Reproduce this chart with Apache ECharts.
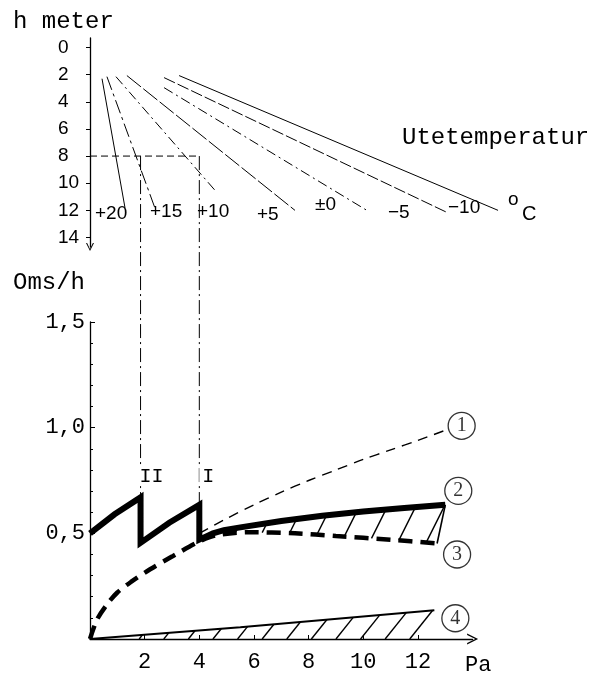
<!DOCTYPE html>
<html>
<head>
<meta charset="utf-8">
<script src="https://cdn.jsdelivr.net/npm/echarts@6/dist/echarts.min.js"></script>
<style>
  html, body { margin: 0; padding: 0; background: #fff; }
  #chart { width: 597px; height: 673px; }
</style>
</head>
<body>
<div id="chart"></div>
<script>
// ---- Upper nomogram: stack height h (m) against draught pressure (Pa) per outdoor temperature
const tempLabels = ['+20', '+15', '+10', '+5', '±0', '−5', '−10'];
const tempLineStart = [[0.44, 2.3], [0.62, 2.15], [0.95, 2.15], [1.35, 2.07], [2.71, 2.96], [2.71, 2.22], [3.26, 2.07]];
const tempLineEnd = [[1.28, 11.8], [2.38, 11.85], [4.65, 10.7], [7.5, 12.0], [10.13, 12.0], [13.06, 12.15], [14.93, 12.0]];
const hTicks = [0, 2, 4, 6, 8, 10, 12, 14];
const readHeight = 8;              // example reading at h = 8 m
const jumpPressures = [1.85, 4.0]; // read-off pressures, marked II and I

// ---- Lower chart: air changes per hour (Oms/h) against pressure (Pa)
const paTicks = [2, 4, 6, 8, 10, 12];
const omsTicks = [0.5, 1.0, 1.5];
const curve1 = [[4.0, 0.5], [5.0, 0.57], [6.0, 0.635], [7.0, 0.695], [8.0, 0.75], [9.0, 0.8], [10.0, 0.85], [11.0, 0.895], [12.0, 0.94], [13.05, 0.99]];
const curve2 = [[0, 0.5], [0.9, 0.59], [1.85, 0.67], [1.85, 0.455], [2.9, 0.55], [4.0, 0.635], [4.0, 0.47],
                [4.5, 0.5], [4.9, 0.515], [5.5, 0.528], [7.0, 0.558], [8.5, 0.583], [10.0, 0.603], [11.5, 0.62], [13.0, 0.635]];
const curve3 = [[0, 0], [0.25, 0.09], [0.6, 0.16], [1.0, 0.22], [1.5, 0.27], [2.2, 0.33], [3.0, 0.39], [3.9, 0.455], [4.6, 0.49],
                [5.8, 0.505], [7.5, 0.5], [9.0, 0.487], [11.0, 0.47], [12.7, 0.452]];
const curve4 = [[0, 0], [5.5, 0.056], [12.6, 0.136]];
const curveNames = ['1', '2', '3', '4'];

// ---- drawing constants
const PX_PER_PA = 27.33;
const MONO = 'Liberation Mono';
const SANS = 'Liberation Sans';
const SERIF = 'Liberation Serif';
const tempDash = ['solid', [14, 4, 3, 4], [10, 4, 2, 4], [18, 3], [10, 4, 2, 4], [12, 3], 'solid'];
const chevron = 'path://M5,0 L10,10 L8.6,10 L5,2.6 L1.4,10 L0,10 Z';

function interp(curve, x) {
  for (let i = 1; i < curve.length; i++) {
    const [x0, y0] = curve[i - 1], [x1, y1] = curve[i];
    if (x1 > x0 && x >= x0 && x <= x1) return y0 + (y1 - y0) * (x - x0) / (x1 - x0);
  }
  return x < curve[0][0] ? curve[0][1] : curve[curve.length - 1][1];
}

// hatch strokes between a lower and an upper boundary, leaning right by `lean` * height
function hatchSeries(name, xs, lowerFn, upperFn, lean) {
  return {
    type: 'custom', name, xAxisIndex: 1, yAxisIndex: 1, z: 3, silent: true,
    data: xs.map(x => [x, lowerFn(x)]),
    renderItem(params, api) {
      const xb = api.value(0);
      const p0 = api.coord([xb, api.value(1)]);
      const ppu = api.size([1, 0])[0];
      let yTop = api.coord([xb, upperFn(xb)])[1];
      let dx = lean * (p0[1] - yTop);
      yTop = api.coord([xb + dx / ppu, upperFn(xb + dx / ppu)])[1];
      dx = lean * (p0[1] - yTop);
      return { type: 'line', shape: { x1: p0[0], y1: p0[1], x2: p0[0] + dx, y2: yTop },
               style: { stroke: '#000', lineWidth: 1.4 } };
    }
  };
}

const hatchUpperX = [];
for (let x = 5.3; x <= 12.35; x += 1.0) hatchUpperX.push(+x.toFixed(2));
const hatchLowerX = [];
for (let x = 1.8; x <= 11.75; x += 0.9) hatchLowerX.push(+x.toFixed(2));

const series = [];

// temperature lines
tempLabels.forEach((t, i) => {
  series.push({
    type: 'line', name: t, xAxisIndex: 0, yAxisIndex: 0, symbol: 'none', silent: true,
    data: [tempLineStart[i], tempLineEnd[i]],
    lineStyle: { color: '#000', width: 1, type: tempDash[i] }
  });
});
// reading line at h = 8 m
series.push({
  type: 'line', xAxisIndex: 0, yAxisIndex: 0, symbol: 'none', silent: true,
  data: [[0, readHeight], [jumpPressures[1], readHeight]],
  lineStyle: { color: '#000', width: 1, type: [7, 4] }
});

// lower curves
series.push({
  type: 'line', name: curveNames[0], xAxisIndex: 1, yAxisIndex: 1, symbol: 'none', smooth: 0.3,
  data: curve1, lineStyle: { color: '#000', width: 1.4, type: [10, 7] }
});
series.push({
  type: 'line', name: curveNames[1], xAxisIndex: 1, yAxisIndex: 1, symbol: 'none', z: 4,
  data: curve2, lineStyle: { color: '#000', width: 6, join: 'miter', miterLimit: 20 }
});
series.push({
  type: 'line', name: curveNames[2], xAxisIndex: 1, yAxisIndex: 1, symbol: 'none', smooth: 0.3,
  data: curve3, lineStyle: { color: '#000', width: 4.5, type: [14, 8] }
});
series.push({
  type: 'line', name: curveNames[3], xAxisIndex: 1, yAxisIndex: 1, symbol: 'none',
  data: curve4, lineStyle: { color: '#000', width: 2 }
});

// hatching between curves 3 and 2, and under curve 4
series.push(hatchSeries('hatch23', hatchUpperX, x => interp(curve3, x), x => interp(curve2, x), 0.5));
series.push(hatchSeries('hatch4', hatchLowerX, () => 0, x => interp(curve4, x), 0.8));
// closing stroke from the end of curve 3 to the end of curve 2
series.push({
  type: 'line', xAxisIndex: 1, yAxisIndex: 1, symbol: 'none', silent: true,
  data: [curve3[curve3.length - 1], curve2[curve2.length - 1]],
  lineStyle: { color: '#000', width: 1.6 }
});

// circled curve numbers, next to each curve's end
const circleOffsets = [[15, -4], [13, -14], [20, 11], [21, 8]];
[curve1, curve2, curve3, curve4].forEach((c, i) => {
  series.push({
    type: 'scatter', xAxisIndex: 1, yAxisIndex: 1, z: 6, silent: true,
    symbol: 'circle', symbolSize: 27, symbolOffset: circleOffsets[i],
    itemStyle: { color: '#fff', borderColor: '#000', borderWidth: 1.3 },
    label: { show: true, position: 'inside', formatter: curveNames[i],
             fontFamily: SERIF, fontSize: 20, color: '#000' },
    data: [c[c.length - 1]]
  });
});

// free text
const txt = (left, top, text, font, size, extra) => Object.assign({
  type: 'text', x: left, y: top, silent: true,
  style: { text, font: size + 'px "' + font + '"', fill: '#000', textVerticalAlign: 'middle' }
}, extra || {});

const graphics = [
  txt(13, 22, 'h meter', MONO, 24),
  txt(13, 283, 'Oms/h', MONO, 24),
  txt(402, 138, 'Utetemperatur', MONO, 24),
  txt(465, 665, 'Pa', MONO, 22),
  txt(95, 214, tempLabels[0], SANS, 19),
  txt(150, 212, tempLabels[1], SANS, 19),
  txt(197, 212, tempLabels[2], SANS, 19),
  txt(257, 215, tempLabels[3], SANS, 19),
  txt(315, 205, tempLabels[4], SANS, 19),
  txt(388, 213, tempLabels[5], SANS, 19),
  txt(448, 208, tempLabels[6], SANS, 19),
  txt(508, 200, 'o', SANS, 19),
  txt(522, 214, 'C', SANS, 20)
];

const option = {
  animation: false,
  backgroundColor: '#fff',
  grid: [
    { left: 90, top: 38, width: 16 * PX_PER_PA, height: 209 },
    { left: 90, top: 322, width: 14 * PX_PER_PA, height: 320 }
  ],
  xAxis: [
    { gridIndex: 0, type: 'value', min: 0, max: 16, show: false },
    { gridIndex: 1, type: 'value', min: 0, max: 14,
      axisLine: { show: true, onZero: false, symbol: ['none', chevron], symbolSize: [11, 11],
                  lineStyle: { color: '#000', width: 1.3 } },
      axisTick: { show: true, inside: true, length: 4, customValues: paTicks, lineStyle: { color: '#000' } },
      axisLabel: { customValues: paTicks, margin: 12, color: '#000', fontFamily: MONO, fontSize: 22 },
      splitLine: { show: false } }
  ],
  yAxis: [
    { gridIndex: 0, type: 'value', inverse: true, min: -0.7, max: 14.7,
      axisLine: { show: true, onZero: false, symbol: [chevron, 'none'], symbolSize: [8, 9],
                  lineStyle: { color: '#000', width: 1.3 } },
      axisTick: { show: true, length: 4, customValues: hTicks, lineStyle: { color: '#000' } },
      axisLabel: { customValues: hTicks, align: 'left', margin: 32, color: '#000', fontFamily: SANS, fontSize: 19 },
      splitLine: { show: false } },
    { gridIndex: 1, type: 'value', min: 0, max: 1.5, interval: 0.5,
      axisLine: { show: true, onZero: false, lineStyle: { color: '#000', width: 1.3 } },
      axisTick: { show: true, inside: true, length: 5, lineStyle: { color: '#000' } },
      minorTick: { show: true, splitNumber: 5, length: 3, lineStyle: { color: '#000' } },
      axisLabel: { margin: 5, color: '#000', fontFamily: MONO, fontSize: 22,
                   formatter: v => omsTicks.includes(v) ? v.toFixed(1).replace('.', ',') : '' },
      splitLine: { show: false } }
  ],
  series,
  graphic: graphics
};

const chart = echarts.init(document.getElementById('chart'), null, { renderer: 'canvas' });
chart.setOption(option);

// dash-dot guides from the h = 8 m reading down to the peaks of curve 2
const guideLines = [];
const guideLabels = ['II', 'I'];
jumpPressures.forEach((x, i) => {
  const peak = Math.max(...curve2.filter(p => p[0] === x).map(p => p[1]));
  const top = chart.convertToPixel({ xAxisIndex: 0, yAxisIndex: 0 }, [x, readHeight]);
  const bottom = chart.convertToPixel({ xAxisIndex: 1, yAxisIndex: 1 }, [x, peak]);
  guideLines.push({
    type: 'line', silent: true, z: 2,
    shape: { x1: top[0], y1: top[1], x2: bottom[0], y2: bottom[1] },
    style: { stroke: '#000', lineWidth: 1, lineDash: [14, 4, 2, 4] }
  });
  guideLines.push({
    type: 'rect', silent: true, z: 3,
    shape: { x: top[0] - 2 + (i === 0 ? 0 : 2), y: 466, width: i === 0 ? 24 : 14, height: 20 },
    style: { fill: '#fff' }
  });
  guideLines.push(txt(top[0] + (i === 0 ? -1 : 3), 477, guideLabels[i], MONO, 20, { z: 4 }));
});
chart.setOption({ graphic: graphics.concat(guideLines) });
</script>
</body>
</html>
